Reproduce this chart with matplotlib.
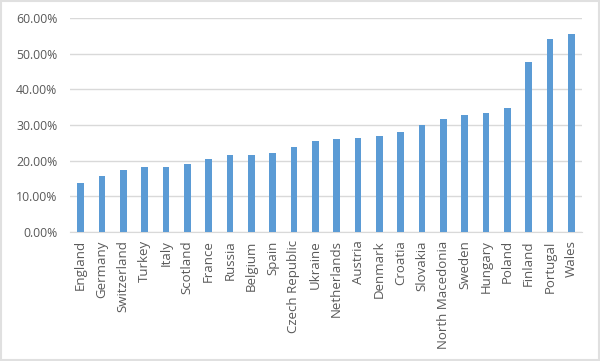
import matplotlib.pyplot as plt
from matplotlib.ticker import PercentFormatter

countries = ['England', 'Germany', 'Switzerland', 'Turkey', 'Italy', 'Scotland',
             'France', 'Russia', 'Belgium', 'Spain', 'Czech Republic', 'Ukraine',
             'Netherlands', 'Austria', 'Denmark', 'Croatia', 'Slovakia',
             'North Macedonia', 'Sweden', 'Hungary', 'Poland', 'Finland',
             'Portugal', 'Wales']
values = [13.8, 15.8, 17.4, 18.2, 18.2, 19.0, 20.5, 21.6, 21.6, 22.1, 23.8, 25.6,
          26.1, 26.4, 26.9, 28.0, 30.1, 31.7, 32.8, 33.3, 34.8, 47.7, 54.1, 55.5]
yticks = [0, 10, 20, 30, 40, 50, 60]

plt.rcParams['font.family'] = ['Open Sans', 'DejaVu Sans']

fig = plt.figure(figsize=(6, 3.61), dpi=100)
ax = fig.add_axes([70 / 600, 1 - 232 / 361, 512 / 600, 214 / 361])

x = range(len(countries))
ax.bar(x, values, width=0.3, color='#5B9BD5', zorder=3)

ax.set_xlim(-0.5, len(countries) - 0.5)
ax.set_ylim(0, 60)
ax.set_yticks(yticks)
ax.yaxis.set_major_formatter(PercentFormatter(decimals=2))
ax.set_xticks(list(x))
ax.set_xticklabels(countries, rotation=90)

ax.grid(axis='y', color='#D9D9D9', lw=1, zorder=0)
for s in ['top', 'right', 'left']:
    ax.spines[s].set_visible(False)
ax.spines['bottom'].set_color('#D9D9D9')
ax.tick_params(axis='both', length=0, colors='#595959')
ax.tick_params(axis='y', pad=9, labelsize=8.8)
ax.tick_params(axis='x', pad=6, labelsize=9.5)

# light frame round the chart
fig.patches.append(plt.Rectangle((0.002, 0.003), 0.996, 0.994, transform=fig.transFigure,
                                 fill=False, edgecolor='#E0E0E0', lw=1.5))

fig.savefig('out.png', dpi=100)
